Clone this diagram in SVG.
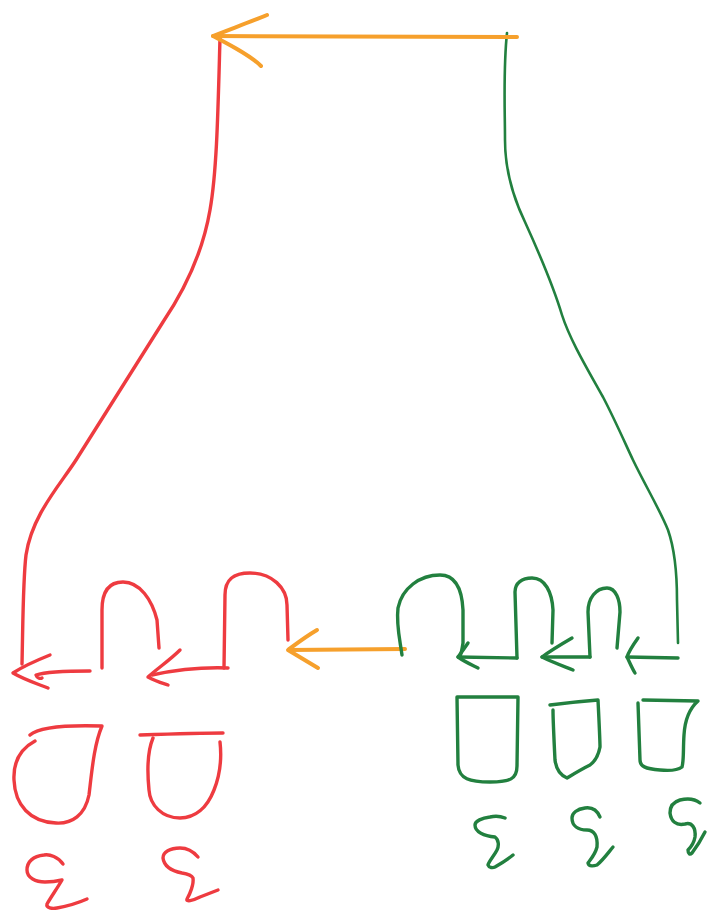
<svg xmlns="http://www.w3.org/2000/svg" width="708" height="912" viewBox="0 0 708 912">
<style>
path{fill:none;stroke-linecap:round;stroke-linejoin:round}
.r{stroke:#ee3b40;stroke-width:3.4}
.g{stroke:#22803f;stroke-width:3.4}
.o{stroke:#f6a02c;stroke-width:4}
.gt{stroke:#22803f;stroke-width:2.6}
</style>
<rect width="708" height="912" fill="#ffffff"/>
<g id="connectors">
  <!-- red long line -->
  <path class="r" d="M220,38 C218,110 217,170 210,210 C204,245 190,282 163,322 L76,460 C60,485 32,515 26,555 C23,580 23,620 22,664"/>
  <!-- green long line -->
  <path class="gt" d="M507,33 C503,70 505,110 505,140 C505,170 512,195 525,222 C540,255 553,285 562,315 C570,340 588,370 603,397 C615,420 625,443 633,460 C645,485 660,510 668,530 C675,550 677,575 677,600 L678,643"/>
  <!-- top orange arrow -->
  <path class="o" d="M517,37 L213,36"/>
  <path class="o" d="M267,15 C250,22 228,30 213,36 C230,45 250,55 261,66"/>
  <!-- middle orange arrow -->
  <path class="o" d="M405,649 L289,650"/>
  <path class="o" d="M317,630 C305,637 296,644 288,650 C298,656 308,662 318,668"/>
  <!-- red bumps and arrows -->
  <path class="r" d="M102,668 L102,610 C102,590 110,582 123,582 C140,582 152,600 157,620 L159,648"/>
  <path class="r" d="M224,668 L225,595 C225,578 235,573 250,573 C272,573 287,588 287,605 L288,640"/>
  <path class="r" d="M90,671 C70,671 45,672 36,675 C37,678 40,679 42,678"/>
  <path class="r" d="M50,655 C35,661 22,667 13,673 C25,680 38,684 48,688"/>
  <path class="r" d="M228,668 C200,667 175,670 152,675"/>
  <path class="r" d="M180,650 C170,660 158,668 148,677 C155,681 162,683 168,685"/>
  <!-- green bumps and arrows -->
  <path class="g" d="M402,655 C400,640 396,625 398,608 C402,588 420,575 440,575 C456,575 462,590 463,610 L463,643 C462,650 461,654 460,656"/>
  <path class="g" d="M517,658 L458,657"/>
  <path class="g" d="M468,643 C464,649 461,653 458,657 C465,662 472,665 478,668"/>
  <path class="g" d="M517,658 L515,592 C515,583 522,578 532,578 C545,578 552,592 553,610 L552,643"/>
  <path class="g" d="M590,657 L542,657"/>
  <path class="g" d="M572,638 C560,645 550,651 542,657 C552,662 563,666 573,670"/>
  <path class="g" d="M590,657 L588,612 C588,598 596,588 607,588 C616,588 620,600 620,612 L617,648"/>
  <path class="g" d="M678,658 L627,657"/>
  <path class="g" d="M638,638 C633,645 629,651 627,657 C630,663 632,668 635,673"/>
</g>
<g id="red-bucket-1">
  <path class="r" d="M30,735 C40,726 70,725 102,726 C94,745 92,770 89,795 C85,815 72,824 56,823 C30,822 15,805 14,780 C13,760 22,748 35,741"/>
</g>
<g id="red-bucket-2">
  <path class="r" d="M140,735 C170,734 200,733 223,733"/>
  <path class="r" d="M220,742 C222,760 220,775 214,790 C207,808 195,818 180,818 C162,818 150,805 149,790 C147,770 148,750 153,738"/>
</g>
<g id="green-bucket-1">
  <path class="g" d="M518,697 L457,697 L458,765 C459,779 470,782 490,782 C510,782 517,779 517,766 Z"/>
</g>
<g id="green-bucket-2">
  <path class="g" d="M550,705 C565,703 585,701 598,700 C599,720 600,740 600,747 C598,758 594,762 590,765 C580,770 572,775 567,778 C560,775 556,768 555,760 C554,740 553,720 553,710"/>
</g>
<g id="green-bucket-3">
  <path class="g" d="M643,700 L698,701 C690,708 685,718 684,735 C683,750 684,760 682,767 C678,770 670,771 660,770 C645,769 640,766 640,760 L638,703"/>
</g>
<g id="red-mark-1">
  <path class="r" d="M63,864 C58,857 50,854 44,855 C33,856 27,862 27,870 C27,878 36,882 45,882 C52,882 58,881 62,880 C58,887 51,897 47,904 C46,908 52,909 57,908 C68,906 78,903 87,899"/>
</g>
<g id="red-mark-2">
  <path class="r" d="M198,857 C192,850 186,848 180,848 C170,848 163,852 163,858 C164,866 172,871 182,873 C188,874 192,876 193,878 C194,884 190,894 187,899 C186,902 192,901 200,897 L218,890"/>
</g>
<g id="green-mark-1">
  <path class="g" d="M505,818 C500,816 494,816 490,817 C482,818 475,821 475,825 C475,832 484,836 495,837 C499,840 499,846 497,850 C494,856 489,861 488,865 C489,868 493,868 495,867 C502,863 508,859 513,855"/>
</g>
<g id="green-mark-2">
  <path class="g" d="M600,817 C597,810 592,807 585,808 C577,809 572,813 572,818 C572,826 578,830 587,830 C594,830 598,836 597,847 C595,855 590,860 588,863 C589,867 594,866 597,865 C603,860 608,853 613,847"/>
</g>
<g id="green-mark-3">
  <path class="g" d="M700,803 C695,799 688,798 680,800 C673,802 670,807 670,813 C671,821 676,826 685,824 C692,822 696,828 695,837 C694,843 690,848 688,850 C688,854 690,855 692,853 C698,845 702,838 705,832"/>
</g>
</svg>
